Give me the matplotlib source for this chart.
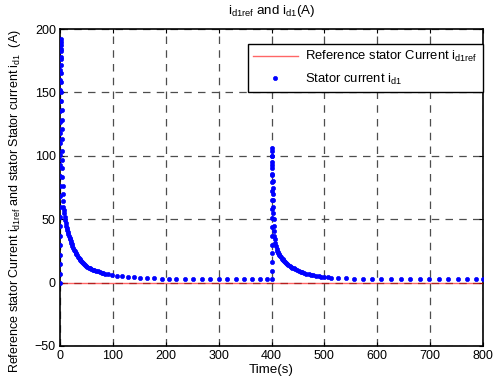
import matplotlib
matplotlib.use("Agg")
import matplotlib.pyplot as plt

plt.rcParams['font.family'] = ['Liberation Sans', 'DejaVu Sans']
plt.rcParams['mathtext.fontset'] = 'custom'
plt.rcParams['mathtext.rm'] = 'Liberation Sans'
plt.rcParams['mathtext.it'] = 'Liberation Sans'

# --- data ---
t_ref = [0, 800]
i_ref = [0, 0]

t_seg1 = [0.2, 0.2, 0.3, 0.3, 0.3, 0.4, 0.4, 0.4, 0.5, 0.5,
          0.5, 0.6, 0.6, 0.6, 0.7, 0.7, 0.7, 0.8, 0.8, 0.8,
          0.9, 0.9, 1.0, 1.0, 1.1, 1.2, 1.4, 1.6, 1.8, 2.0,
          2.2, 2.4, 2.6, 2.8, 3.0, 3.2, 3.4, 3.6, 3.8, 4.0,
          4.3, 4.6, 5.0, 5.4, 5.8, 6.5, 7.2, 8.0, 9.0, 10,
          11, 12, 13, 14, 15, 16, 17, 18, 19, 20,
          21, 22, 23.5, 25, 26.5, 28, 29.5, 31, 32.5, 34,
          35.5, 37, 38.5, 40, 42, 44, 46, 48, 50, 52,
          54.5, 57, 59.5, 62, 65, 68, 71.5, 75, 78.5, 82,
          86, 90, 98, 107, 117, 128, 140, 152, 165, 178,
          192, 206, 220, 236, 252, 268, 284, 300, 316, 332,
          348, 364, 378, 391]
i_seg1 = [0, 7, 15, 22, 30, 37, 45, 52, 60, 68,
          76, 84, 93, 101, 110, 118, 127, 135, 143, 152,
          160, 168, 176, 184, 192, 190, 187, 183, 178, 172,
          165, 158, 150, 143, 136, 128, 121, 113, 104, 97,
          90, 83, 76, 70, 64, 60, 57, 54.5, 52, 49.5,
          47, 45, 43, 41.5, 40, 38.5, 37, 35.5, 34, 32.8,
          31.5, 30.5, 29, 27, 25.8, 24.7, 23.5, 22.4, 21.4, 20.4,
          19.5, 18.6, 17.8, 17, 16, 15.2, 14.4, 13.7, 13.1, 12.5,
          11.9, 11.3, 10.8, 10.3, 9.8, 9.3, 8.8, 8.3, 7.8, 7.3,
          6.9, 6.5, 5.9, 5.3, 4.9, 4.5, 4.2, 3.9, 3.6, 3.4,
          3.2, 3.1, 3.0, 2.9, 2.8, 2.8, 2.8, 2.8, 2.8, 2.8,
          2.8, 2.8, 2.8, 2.8]

t_seg2 = [400.1, 400.1, 400.2, 400.2, 400.3, 400.3, 400.4, 400.4, 400.5, 400.5,
          400.6, 400.6, 400.7, 400.7, 400.8, 400.8, 401.0, 401.2, 401.4, 401.6,
          401.8, 402.0, 402.3, 402.6, 402.9, 403.2, 403.6, 404.0, 404.5, 405.0,
          405.6, 406.5, 407.5, 408.5, 409.5, 411, 412, 413, 414, 415,
          416.5, 418, 419.5, 421, 422.5, 424, 426, 428, 430, 432,
          434.5, 437, 439.5, 442, 445, 448, 451.5, 455, 458.5, 462,
          466, 470, 474.5, 479, 484, 489, 494.5, 500, 506, 512,
          525, 540, 556, 573, 590, 608, 626, 644, 662, 680,
          698, 716, 734, 752, 770, 786, 800]
i_seg2 = [2.8, 9, 16, 23, 30, 37, 44, 51, 58, 65,
          72, 79, 86, 93, 100, 106, 104, 100, 95, 90,
          85, 80, 75, 70, 65, 60, 55, 50, 45, 41,
          37, 34, 31, 28.5, 26.5, 25, 24, 23, 22.2, 21.5,
          20.6, 19.8, 19, 18.3, 17.6, 17, 16.2, 15.5, 14.8, 14.1,
          13.3, 12.6, 11.9, 11.3, 10.6, 10, 9.3, 8.7, 8.1, 7.6,
          7.1, 6.6, 6.1, 5.7, 5.3, 5.0, 4.7, 4.5, 4.2, 4.0,
          3.6, 3.3, 3.1, 3.0, 2.9, 2.8, 2.8, 2.8, 2.8, 2.8,
          2.8, 2.8, 2.8, 2.8, 2.8, 2.8, 2.8]

x_ticks = [0, 100, 200, 300, 400, 500, 600, 700, 800]
y_ticks = [-50, 0, 50, 100, 150, 200]

fs = 9
fs_lab = 9.6

fig = plt.figure(figsize=(4.94, 3.89), dpi=100)
ax = fig.add_axes([60/494, 1-346/389, 423/494, 317/389])

ax.grid(True, linestyle=(0, (6, 5)), color='#4d4d4d', linewidth=0.9)
ax.set_axisbelow(True)

ax.plot(t_ref, i_ref, color='#ff0000', linewidth=1.0, alpha=0.6, zorder=3,
        label=r'Reference stator Current $\mathrm{i_{d1ref}}$')
t_all = t_seg1 + t_seg2
i_all = i_seg1 + i_seg2
ax.plot(t_all, i_all, linestyle='none', marker='o', markersize=3.0, color='#0000ff',
        markeredgewidth=0.5, zorder=4, label=r'Stator current $\mathrm{i_{d1}}$')

ax.set_xlim(0, 800)
ax.set_ylim(-50, 200)
ax.set_xticks(x_ticks)
ax.set_yticks(y_ticks)
ax.tick_params(labelsize=fs, direction='in', length=3, width=0.8, pad=3)
ax.tick_params(top=True, right=True)
for s in ax.spines.values():
    s.set_linewidth(1.2)

ax.set_xlabel('Time(s)', fontsize=fs_lab, labelpad=1)
ax.set_ylabel(r'Reference stator Current $\mathrm{i_{d1ref}}$ and stator Stator current $\mathrm{i_{d1}}$  (A)',
              fontsize=9.0)
ax.yaxis.set_label_coords(-0.088, 0.458)
ax.set_title(r'$\mathrm{i_{d1ref}}$ and $\mathrm{i_{d1}}$(A)', fontsize=fs_lab, pad=11)

leg = ax.legend(loc='upper right', fontsize=9.4, fancybox=False, framealpha=1,
                edgecolor='black', borderaxespad=0, bbox_to_anchor=(1.0, 0.953),
                handlelength=3.4, handletextpad=0.6, markerscale=1.0,
                borderpad=0.4, labelspacing=0.55)
leg.get_frame().set_linewidth(1.0)

fig.savefig('out.png', dpi=100)
